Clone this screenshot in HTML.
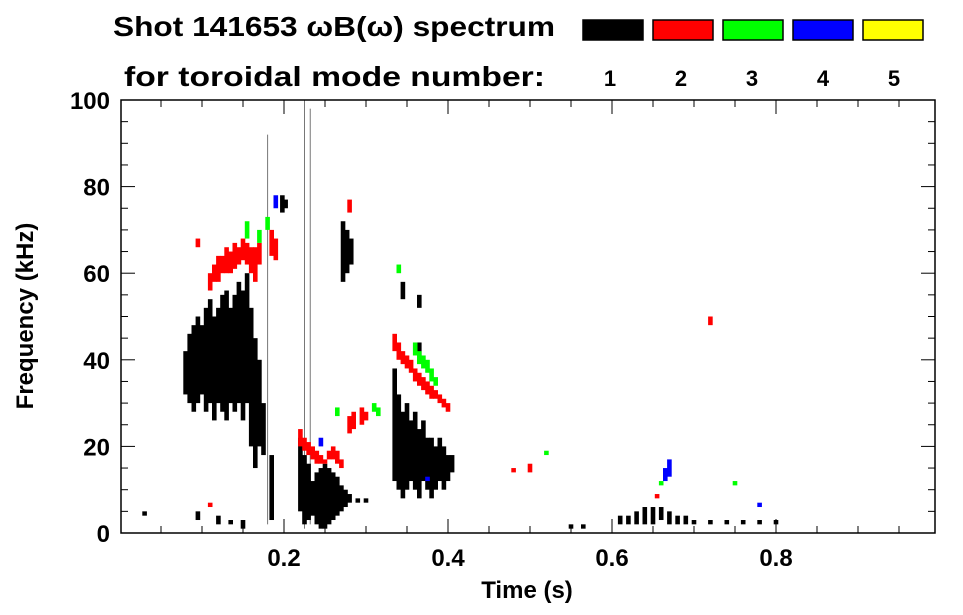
<!DOCTYPE html>
<html><head><meta charset="utf-8"><style>
html,body{margin:0;padding:0;background:#fff;width:963px;height:615px;overflow:hidden}
text{font-family:"Liberation Sans",sans-serif;font-weight:bold}
</style></head><body>
<svg id="chart" width="963" height="615" xmlns="http://www.w3.org/2000/svg">
<text x="113" y="36" font-size="28" textLength="442" lengthAdjust="spacingAndGlyphs">Shot 141653 ωB(ω) spectrum</text>
<text x="124" y="86" font-size="28" textLength="421" lengthAdjust="spacingAndGlyphs">for toroidal mode number:</text>
<g id="legend"></g>
<g id="marks"></g>
<g id="axes"></g>
<text x="527" y="598" font-size="24" text-anchor="middle">Time (s)</text>
<text transform="translate(33,316) rotate(-90)" font-size="24" text-anchor="middle">Frequency (kHz)</text>
</svg>
<script>
const modeLabels=["1","2","3","4","5"];
const modeColors=["#000000","#ff0000","#00ff00","#0000ff","#ffff00"];
const xTicks=[0.2,0.4,0.6,0.8];
const yTicks=[0,20,40,60,80,100];
// segments: [time s, fLow kHz, fHigh kHz]
const mode1=[[0.03,4,5],[0.08,32,42],[0.085,30,46],[0.09,28,48],[0.095,30,50],[0.1,32,48],[0.105,28,52],[0.11,30,54],[0.115,26,50],[0.12,30,52],[0.125,28,55],[0.13,26,56],[0.135,30,52],[0.14,28,55],[0.145,30,58],[0.15,26,56],[0.155,30,60],[0.16,20,52],[0.165,15,45],[0.17,20,40],[0.175,18,30],[0.095,3,5],[0.12,2,4],[0.135,2,3],[0.15,1,3],
[0.18,2,92],[0.225,1,100],[0.232,2,98],[0.198,74,78],[0.202,75,77],[0.185,3,18],
[0.22,5,22],[0.225,2,18],[0.23,3,16],[0.235,4,12],[0.24,2,14],[0.245,1,15],[0.25,1,16],[0.255,2,15],[0.26,3,14],[0.265,4,13],[0.27,5,11],[0.275,6,10],[0.28,7,9],[0.29,7,8],[0.3,7,8],
[0.272,58,72],[0.277,60,70],[0.282,62,68],
[0.335,12,38],[0.34,10,32],[0.345,8,28],[0.35,10,30],[0.355,12,26],[0.36,10,28],[0.365,8,24],[0.37,12,26],[0.375,10,22],[0.38,8,22],[0.385,10,20],[0.39,12,22],[0.395,10,20],[0.4,12,18],[0.405,14,18],[0.345,54,58],[0.365,52,55],[0.365,40,44],
[0.55,1,2],[0.565,1,2],[0.61,2,4],[0.62,2,4],[0.63,2,5],[0.64,2,6],[0.65,2,6],[0.66,3,6],[0.67,2,5],[0.68,2,4],[0.69,2,4],[0.7,2,3],[0.72,2,3],[0.74,2,3],[0.76,2,3],[0.78,2,3],[0.8,2,3]];
const mode2=[[0.11,56,60],[0.115,58,62],[0.12,58,64],[0.125,60,64],[0.13,60,66],[0.135,60,65],[0.14,61,67],[0.145,62,66],[0.15,63,68],[0.155,62,67],[0.16,60,66],[0.165,58,66],[0.17,62,67],[0.185,64,70],[0.19,63,68],[0.28,74,77],[0.095,66,68],[0.11,6,7],
[0.22,20,24],[0.225,19,22],[0.23,18,21],[0.235,17,20],[0.24,16,19],[0.245,16,18],[0.25,16,17],[0.255,17,19],[0.26,17,20],[0.265,16,19],[0.27,15,17],[0.28,23,27],[0.285,24,28],[0.295,25,29],[0.3,26,28],
[0.335,42,46],[0.34,40,44],[0.345,39,42],[0.35,38,41],[0.355,37,40],[0.36,35,38],[0.365,34,37],[0.37,33,36],[0.375,32,35],[0.38,31,34],[0.385,31,33],[0.39,30,32],[0.395,29,31],[0.4,28,30],
[0.48,14,15],[0.5,14,16],[0.655,8,9],[0.72,48,50]];
const mode3=[[0.155,68,72],[0.17,67,70],[0.18,70,73],[0.265,27,29],[0.31,28,30],[0.315,27,29],[0.36,41,44],[0.365,39,42],[0.37,38,41],[0.375,37,40],[0.38,35,38],[0.385,34,36],[0.34,60,62],[0.52,18,19],[0.66,11,12],[0.75,11,12]];
const mode4=[[0.19,75,78],[0.245,20,22],[0.665,12,15],[0.67,13,17],[0.375,12,13],[0.78,6,7]];
const mode5=[];
const seriesList=[mode1,mode2,mode3,mode4,mode5];

const X0=120,XS=820,Y0=533,YS=4.33;
function xs(t){return X0+t*XS;}
function ys(f){return Y0-f*YS;}
const NS="http://www.w3.org/2000/svg";
function mk(tag,attrs,parent){const e=document.createElementNS(NS,tag);for(const k in attrs)e.setAttribute(k,attrs[k]);parent.appendChild(e);return e;}

const leg=document.getElementById('legend');
modeLabels.forEach((lab,i)=>{
  const r=mk('rect',{x:583+i*70,y:20,width:60,height:20,fill:modeColors[i],stroke:'#000','stroke-width':1.5},leg);
  
  
  const t=mk('text',{x:610+i*71,y:86,'font-size':22,'text-anchor':'middle'},leg);
  t.textContent=lab;
  
  
});

const marks=document.getElementById('marks');
seriesList.forEach((ser,i)=>{
  ser.forEach(s=>{
    const thin=(s[2]-s[1])>70;
    const w=thin?1:4.6;
    const r=mk('rect',{x:xs(s[0])-w/2,y:ys(s[2]),width:w,height:Math.max(2,ys(s[1])-ys(s[2])),fill:thin?'#777':modeColors[i]},marks);
    
    
  });
});

const ax=document.getElementById('axes');
const XL=121,XR=935,YT=100,YB=533;
const frame=mk('rect',{x:XL,y:YT,width:XR-XL,height:YB-YT,fill:'none',stroke:'#000','stroke-width':1.5},ax);


for(let k=1;k<20;k++){const t=k*0.05;const x=xs(t);const L=(k%4===0)?14:7;
  mk('line',{x1:x,y1:YB,x2:x,y2:YB-L,stroke:'#000','stroke-width':1},ax);
  mk('line',{x1:x,y1:YT,x2:x,y2:YT+L,stroke:'#000','stroke-width':1},ax);}
for(let f=0;f<=100;f+=5){const y=ys(f);const L=(f%20===0)?14:7;
  mk('line',{x1:XL,y1:y,x2:XL+L,y2:y,stroke:'#000','stroke-width':1},ax);
  mk('line',{x1:XR,y1:y,x2:XR-L,y2:y,stroke:'#000','stroke-width':1},ax);}
xTicks.forEach(t=>{const e=mk('text',{x:xs(t),y:566,'font-size':24,'text-anchor':'middle'},ax);e.textContent=t.toFixed(1);
  
  });
yTicks.forEach(f=>{const e=mk('text',{x:110,y:ys(f)+9,'font-size':24,'text-anchor':'end'},ax);e.textContent=f;
  
  });
</script>
</body></html>
